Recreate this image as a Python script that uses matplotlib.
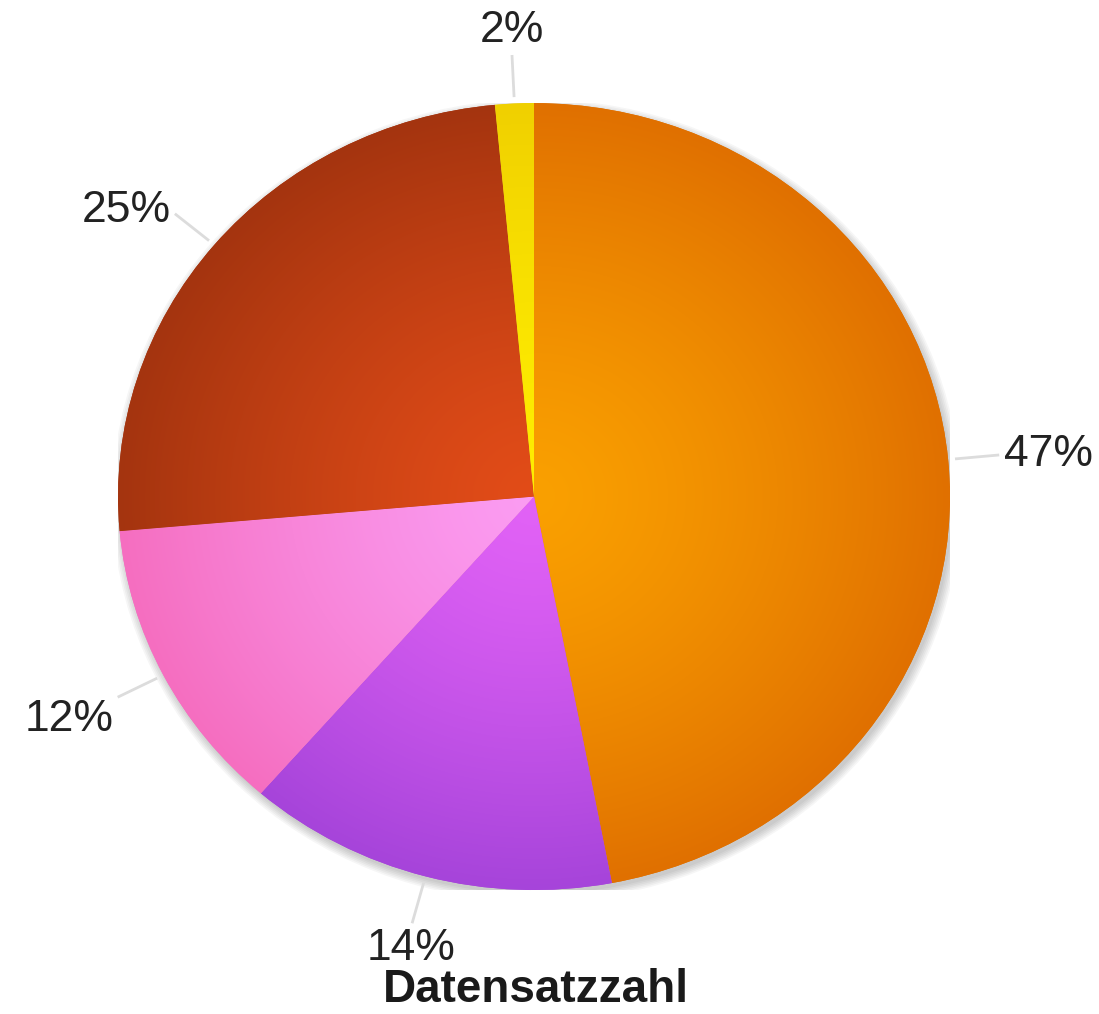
import numpy as np
import matplotlib
matplotlib.use('Agg')
import matplotlib.pyplot as plt
from matplotlib.patches import Ellipse
import matplotlib.colors as mcolors

labels = ['47%', '14%', '12%', '25%', '2%']
values = [47.0, 14.4, 12.2, 24.9, 1.5]
center_colors = ['#FAA000', '#E262F6', '#FB9CF2', '#E24C18', '#FFEE00']
edge_colors = ['#E07000', '#A644DA', '#F56EC0', '#A4340F', '#F0D000']
title = 'Datensatzzahl'

plt.rcParams['font.family'] = ['Liberation Sans', 'DejaVu Sans']
fig = plt.figure(figsize=(10.99, 10.14), dpi=100)
ax = fig.add_axes([0.1074, 0.1223, 0.757, 0.776])

# soft shadow
for k in range(6):
    ax.add_patch(Ellipse((0.006, -0.010), 2.0 + 0.008 * k, 2.0 + 0.008 * k,
                         facecolor='#000000', alpha=0.035, lw=0, zorder=0))

wedges, _ = ax.pie(values, colors=edge_colors, startangle=90, counterclock=False,
                   radius=1, wedgeprops=dict(linewidth=0), normalize=True)

N = 700
g = np.linspace(-1, 1, N)
X, Y = np.meshgrid(g, g)
R = np.clip(np.sqrt(X ** 2 + Y ** 2), 0, 1)
for w, c0, c1 in zip(wedges, center_colors, edge_colors):
    a = np.array(mcolors.to_rgb(c0))
    b = np.array(mcolors.to_rgb(c1))
    t = (R ** 1.3)[..., None]
    img = a + (b - a) * t
    im = ax.imshow(img, extent=[-1, 1, -1, 1], origin='lower', aspect='auto',
                   interpolation='bilinear', zorder=w.get_zorder() + 0.1)
    im.set_clip_path(w)

ax.set_aspect('auto')
ax.set_xlim(-1, 1)
ax.set_ylim(-1, 1)
ax.axis('off')

for w, lab in zip(wedges, labels):
    mid = np.deg2rad((w.theta1 + w.theta2) / 2)
    dx, dy = np.cos(mid), np.sin(mid)
    ax.plot([1.02 * dx, 1.12 * dx], [1.02 * dy, 1.12 * dy], color='#dcdcdc', lw=2,
            clip_on=False, zorder=1)
    ha = 'center' if abs(dx) < 0.3 else ('left' if dx > 0 else 'right')
    va = 'bottom' if dy > 0.7 else ('top' if dy < -0.4 else 'center')
    ax.text(1.135 * dx, 1.135 * dy, lab, ha=ha, va=va, fontsize=32, color='#222222',
            clip_on=False)

fig.text(536 / 1099, 1 - 1002 / 1014, title, ha='center', va='baseline',
         fontsize=33, fontweight='bold', color='#1a1a1a')

fig.savefig('out.png', dpi=100, facecolor='white')
